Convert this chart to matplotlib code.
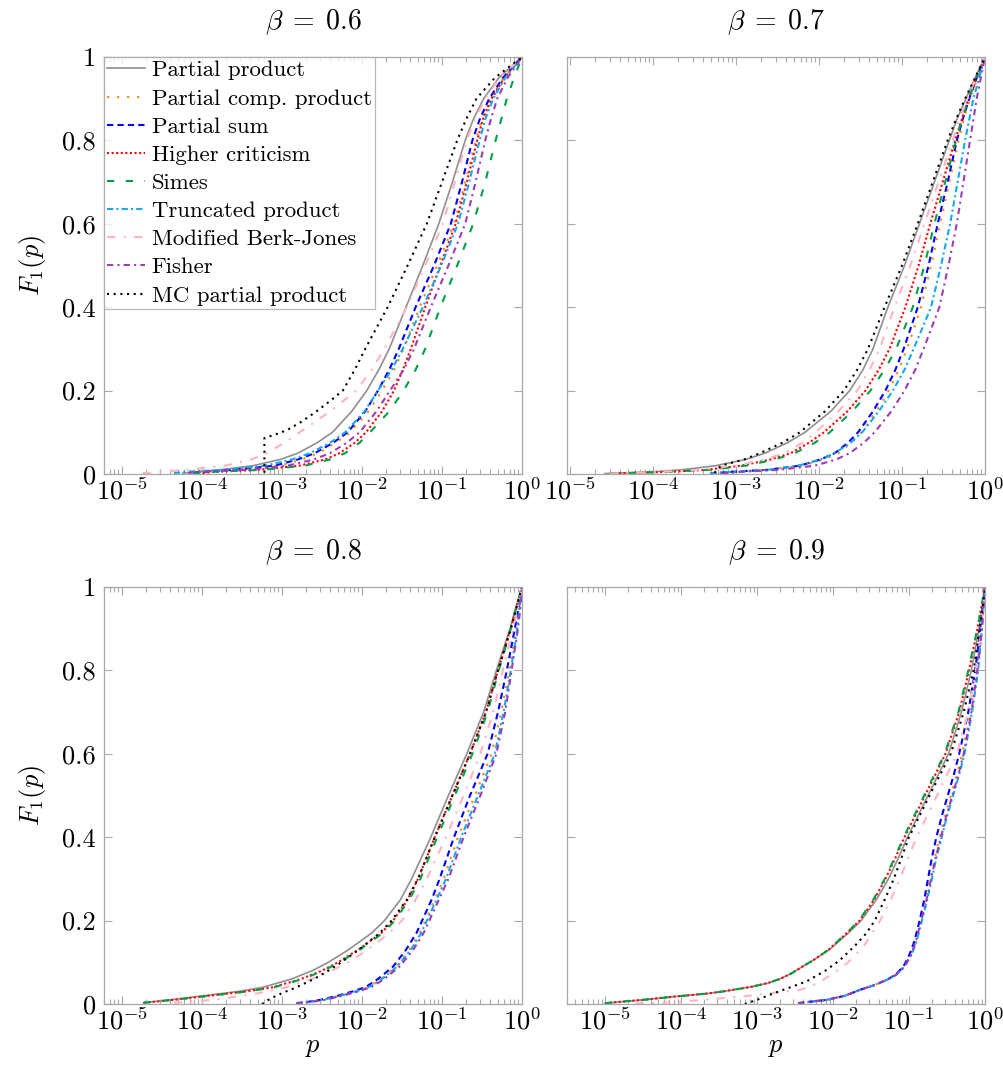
import numpy as np
import matplotlib
matplotlib.use("Agg")
import matplotlib.pyplot as plt
from matplotlib.ticker import FuncFormatter, LogLocator, NullFormatter

plt.rcParams["font.family"] = "serif"
plt.rcParams["font.serif"] = ["cmr10"]
plt.rcParams["mathtext.fontset"] = "cm"
plt.rcParams["axes.unicode_minus"] = False

# ---- curves: (log10 p, F1(p)) ----
# beta = 0.6
F06 = [0.002, 0.005, 0.01, 0.02, 0.035, 0.05, 0.075, 0.1, 0.15, 0.2, 0.25, 0.3, 0.4, 0.5, 0.6, 0.7, 0.8, 0.85, 0.9, 0.95, 1.0]
B06_PP = ([-4.24, -4.09, -3.78, -3.36, -3.02, -2.80, -2.56, -2.37, -2.13, -1.94, -1.79, -1.66, -1.45, -1.24, -1.04, -0.87, -0.71, -0.61, -0.48, -0.29, 0], F06)
B06_PCP = ([-4.09, -4.0, -3.55, -3.02, -2.75, -2.55, -2.33, -2.15, -1.92, -1.75, -1.60, -1.48, -1.28, -1.06, -0.85, -0.71, -0.58, -0.50, -0.39, -0.23, 0], F06)
B06_PS = ([-4.11, -4.02, -3.62, -3.09, -2.80, -2.59, -2.36, -2.18, -1.96, -1.80, -1.66, -1.54, -1.33, -1.10, -0.89, -0.75, -0.62, -0.53, -0.41, -0.24, 0], F06)
B06_HC = ([-3.99, -3.86, -3.30, -2.78, -2.46, -2.28, -2.09, -1.95, -1.75, -1.60, -1.49, -1.39, -1.21, -1.02, -0.83, -0.69, -0.56, -0.49, -0.38, -0.22, 0], F06)
B06_SIMES = ([-4.11, -3.90, -3.25, -2.71, -2.40, -2.21, -2.03, -1.90, -1.66, -1.48, -1.33, -1.21, -1.02, -0.81, -0.61, -0.46, -0.33, -0.26, -0.19, -0.10, 0], F06)
B06_TP = ([-4.35, -4.21, -3.72, -3.21, -2.87, -2.65, -2.40, -2.21, -1.97, -1.80, -1.63, -1.49, -1.24, -1.01, -0.80, -0.66, -0.53, -0.46, -0.36, -0.21, 0], F06)
B06_MBJ = ([-4.74, -4.52, -4.18, -3.71, -3.38, -3.19, -2.97, -2.78, -2.40, -2.07, -1.88, -1.72, -1.44, -1.21, -0.99, -0.84, -0.69, -0.59, -0.46, -0.28, 0], F06)
B06_FISHER = ([-4.17, -4.09, -3.45, -2.93, -2.60, -2.40, -2.19, -2.03, -1.82, -1.65, -1.48, -1.35, -1.14, -0.92, -0.71, -0.58, -0.46, -0.39, -0.31, -0.18, 0], F06)
B06_MC = ([-3.22, -3.22, -3.08, -2.94, -2.76, -2.57, -2.40, -2.24, -2.09, -1.96, -1.68, -1.43, -1.19, -1.0, -0.81, -0.70, -0.57, -0.34, 0],
          [0.003, 0.086, 0.095, 0.105, 0.125, 0.15, 0.175, 0.2, 0.25, 0.3, 0.4, 0.5, 0.6, 0.7, 0.8, 0.85, 0.9, 0.95, 1.0])

# beta = 0.7
F07 = [0.001, 0.005, 0.01, 0.02, 0.035, 0.05, 0.075, 0.1, 0.15, 0.2, 0.25, 0.3, 0.4, 0.5, 0.6, 0.7, 0.8, 0.85, 0.9, 0.95, 1.0]
B07_PP = ([-4.58, -4.04, -3.66, -3.24, -2.88, -2.65, -2.38, -2.17, -1.86, -1.63, -1.47, -1.35, -1.17, -0.97, -0.79, -0.61, -0.43, -0.34, -0.23, -0.12, 0], F07)
B07_PCP = ([-3.31, -3.05, -2.59, -2.20, -1.94, -1.77, -1.61, -1.49, -1.31, -1.16, -1.04, -0.94, -0.77, -0.65, -0.54, -0.43, -0.32, -0.26, -0.18, -0.09, 0], F07)
B07_PS = ([-3.31, -3.07, -2.62, -2.23, -1.98, -1.81, -1.65, -1.53, -1.35, -1.20, -1.08, -0.98, -0.81, -0.68, -0.57, -0.45, -0.34, -0.27, -0.19, -0.10, 0], F07)
B07_HC = ([-4.52, -3.80, -3.35, -2.94, -2.58, -2.34, -2.12, -1.94, -1.66, -1.44, -1.28, -1.15, -0.96, -0.80, -0.66, -0.51, -0.36, -0.28, -0.20, -0.10, 0], F07)
B07_SIMES = ([-4.52, -3.86, -3.32, -2.88, -2.53, -2.29, -2.05, -1.87, -1.60, -1.38, -1.21, -1.07, -0.87, -0.73, -0.61, -0.48, -0.35, -0.28, -0.20, -0.10, 0], F07)
B07_TP = ([-3.31, -3.07, -2.62, -2.25, -1.98, -1.81, -1.62, -1.48, -1.28, -1.11, -0.97, -0.86, -0.65, -0.53, -0.42, -0.33, -0.24, -0.19, -0.14, -0.07, 0], F07)
B07_MBJ = ([-4.52, -3.92, -3.45, -3.00, -2.65, -2.42, -2.20, -2.04, -1.77, -1.54, -1.39, -1.27, -1.09, -0.90, -0.73, -0.56, -0.39, -0.31, -0.21, -0.11, 0], F07)
B07_FISHER = ([-3.17, -2.95, -2.48, -2.05, -1.79, -1.63, -1.46, -1.33, -1.13, -0.97, -0.84, -0.74, -0.55, -0.44, -0.34, -0.26, -0.18, -0.14, -0.10, -0.05, 0], F07)
B07_MC = ([-3.26, -3.18, -2.90, -2.71, -2.44, -2.23, -1.93, -1.70, -1.54, -1.41, -1.21, -1.0, -0.81, -0.63, -0.45, -0.35, -0.24, -0.12, 0],
          [0.003, 0.02, 0.035, 0.05, 0.075, 0.1, 0.15, 0.2, 0.25, 0.3, 0.4, 0.5, 0.6, 0.7, 0.8, 0.85, 0.9, 0.95, 1.0])

# beta = 0.8
F08A = [0.003, 0.01, 0.02, 0.03, 0.04, 0.06, 0.08, 0.1, 0.13, 0.17, 0.2, 0.25, 0.3, 0.4, 0.5, 0.6, 0.7, 0.8, 0.9, 0.95, 1.0]
F08B = [0.002, 0.005, 0.01, 0.02, 0.03, 0.04, 0.06, 0.09, 0.13, 0.17, 0.25, 0.3, 0.4, 0.5, 0.6, 0.7, 0.8, 0.9, 0.95, 1.0]
B08_PP = ([-4.73, -4.40, -3.97, -3.55, -3.24, -2.88, -2.62, -2.42, -2.17, -1.88, -1.72, -1.52, -1.38, -1.14, -0.92, -0.69, -0.48, -0.32, -0.15, -0.08, 0], F08A)
B08_PCP = ([-2.82, -2.66, -2.49, -2.27, -2.08, -1.92, -1.76, -1.57, -1.41, -1.28, -1.09, -0.98, -0.80, -0.59, -0.38, -0.26, -0.16, -0.07, -0.03, 0], F08B)
B08_PS = ([-2.82, -2.68, -2.52, -2.30, -2.12, -1.96, -1.80, -1.61, -1.45, -1.32, -1.13, -1.03, -0.85, -0.65, -0.43, -0.30, -0.19, -0.09, -0.04, 0], F08B)
B08_HC = ([-4.73, -4.35, -3.90, -3.45, -3.12, -2.76, -2.50, -2.30, -2.05, -1.76, -1.61, -1.43, -1.30, -1.09, -0.87, -0.65, -0.45, -0.30, -0.14, -0.07, 0], F08A)
B08_SIMES = ([-4.73, -4.35, -3.90, -3.44, -3.10, -2.74, -2.48, -2.28, -2.03, -1.74, -1.59, -1.41, -1.27, -1.06, -0.84, -0.62, -0.43, -0.29, -0.14, -0.07, 0], F08A)
B08_TP = ([-2.82, -2.66, -2.49, -2.27, -2.08, -1.92, -1.75, -1.56, -1.39, -1.26, -1.07, -0.95, -0.76, -0.55, -0.34, -0.23, -0.14, -0.06, -0.03, 0], F08B)
B08_MBJ = ([-4.35, -3.85, -3.50, -3.17, -2.95, -2.63, -2.38, -2.17, -1.93, -1.66, -1.50, -1.33, -1.19, -0.95, -0.73, -0.52, -0.36, -0.24, -0.11, -0.05, 0], F08A)
B08_FISHER = ([-2.82, -2.64, -2.46, -2.24, -2.05, -1.89, -1.72, -1.53, -1.36, -1.23, -1.04, -0.92, -0.73, -0.52, -0.32, -0.21, -0.13, -0.05, -0.02, 0], F08B)
B08_MC = ([-3.25, -3.17, -3.07, -2.95, -2.82, -2.60, -2.42, -2.26, -2.04, -1.78, -1.63, -1.44, -1.30, -1.09, -0.87, -0.65, -0.45, -0.30, -0.14, -0.07, 0],
          [0.0, 0.01, 0.02, 0.03, 0.04, 0.06, 0.08, 0.1, 0.13, 0.17, 0.2, 0.25, 0.3, 0.4, 0.5, 0.6, 0.7, 0.8, 0.9, 0.95, 1.0])

# beta = 0.9
F09A = [0.002, 0.01, 0.0175, 0.025, 0.03, 0.041, 0.05, 0.06, 0.073, 0.09, 0.105, 0.13, 0.17, 0.2, 0.25, 0.3, 0.35, 0.4, 0.5, 0.6, 0.7, 0.8, 0.9, 0.95, 1.0]
F09B = [0.002, 0.01, 0.02, 0.034, 0.045, 0.058, 0.07, 0.089, 0.12, 0.15, 0.2, 0.25, 0.3, 0.35, 0.4, 0.45, 0.5, 0.55, 0.6, 0.7, 0.8, 0.9, 0.95, 1.0]
B09_PP = ([-5.0, -4.5, -4.10, -3.66, -3.45, -3.08, -2.86, -2.70, -2.55, -2.40, -2.26, -2.05, -1.80, -1.63, -1.43, -1.27, -1.14, -1.02, -0.75, -0.48, -0.31, -0.18, -0.08, -0.04, 0], F09A)
B09_PCP = ([-2.46, -2.08, -1.84, -1.645, -1.46, -1.29, -1.17, -1.07, -0.97, -0.91, -0.84, -0.78, -0.72, -0.66, -0.60, -0.53, -0.45, -0.37, -0.30, -0.19, -0.11, -0.05, -0.02, 0], F09B)
B09_PS = ([-2.46, -2.08, -1.84, -1.645, -1.46, -1.29, -1.18, -1.075, -0.99, -0.93, -0.86, -0.80, -0.75, -0.70, -0.64, -0.57, -0.49, -0.41, -0.34, -0.22, -0.13, -0.06, -0.03, 0], F09B)
B09_HC = ([-5.0, -4.5, -4.10, -3.66, -3.45, -3.08, -2.86, -2.70, -2.55, -2.40, -2.26, -2.06, -1.82, -1.65, -1.46, -1.31, -1.18, -1.06, -0.79, -0.52, -0.34, -0.21, -0.10, -0.05, 0], F09A)
B09_SIMES = ([-5.0, -4.5, -4.10, -3.66, -3.45, -3.08, -2.86, -2.70, -2.55, -2.40, -2.26, -2.06, -1.82, -1.66, -1.47, -1.32, -1.19, -1.07, -0.80, -0.53, -0.35, -0.22, -0.10, -0.05, 0], F09A)
B09_TP = ([-2.46, -2.08, -1.84, -1.645, -1.46, -1.29, -1.17, -1.06, -0.96, -0.90, -0.83, -0.76, -0.70, -0.64, -0.57, -0.50, -0.42, -0.34, -0.27, -0.17, -0.09, -0.04, -0.02, 0], F09B)
B09_MBJ = ([-4.6, -4.1, -3.22, -2.43, -2.2, -2.0, -1.80, -1.60, -1.38, -1.24, -1.12, -1.01, -0.90, -0.63, -0.37, -0.22, -0.12, -0.05, -0.02, 0],
           [0.001, 0.004, 0.0175, 0.034, 0.05, 0.073, 0.1, 0.137, 0.2, 0.25, 0.3, 0.35, 0.4, 0.5, 0.6, 0.7, 0.8, 0.9, 0.95, 1.0])
B09_FISHER = ([-2.46, -2.08, -1.84, -1.645, -1.46, -1.29, -1.17, -1.06, -0.97, -0.91, -0.84, -0.77, -0.71, -0.65, -0.58, -0.51, -0.43, -0.35, -0.28, -0.18, -0.10, -0.04, -0.02, 0], F09B)
B09_MC = ([-3.16, -3.0, -2.79, -2.35, -2.10, -1.91, -1.71, -1.56, -1.45, -1.32, -1.20, -1.10, -1.0, -0.73, -0.45, -0.28, -0.15, -0.07, -0.03, 0],
          [0.0, 0.01, 0.025, 0.054, 0.08, 0.105, 0.14, 0.17, 0.2, 0.25, 0.3, 0.35, 0.4, 0.5, 0.6, 0.7, 0.8, 0.9, 0.95, 1.0])

BETAS = ["0.6", "0.7", "0.8", "0.9"]
LABELS = ["Partial product", "Partial comp. product", "Partial sum", "Higher criticism",
          "Simes", "Truncated product", "Modified Berk-Jones", "Fisher", "MC partial product"]
PANELS = [
    [B06_PP, B06_PCP, B06_PS, B06_HC, B06_SIMES, B06_TP, B06_MBJ, B06_FISHER, B06_MC],
    [B07_PP, B07_PCP, B07_PS, B07_HC, B07_SIMES, B07_TP, B07_MBJ, B07_FISHER, B07_MC],
    [B08_PP, B08_PCP, B08_PS, B08_HC, B08_SIMES, B08_TP, B08_MBJ, B08_FISHER, B08_MC],
    [B09_PP, B09_PCP, B09_PS, B09_HC, B09_SIMES, B09_TP, B09_MBJ, B09_FISHER, B09_MC],
]
XMIN_LOG = [-5.225, -5.036, -5.225, -5.5]

# line styles, one per method
STYLES = [
    dict(color="#8f8f8f", ls="-", lw=1.2),
    dict(color="#ff8c1a", ls=(0, (1, 3.5)), lw=1.6),
    dict(color="#0000ff", ls=(0, (3, 2)), lw=1.5),
    dict(color="#ff0000", ls=(0, (1, 1.2)), lw=1.5),
    dict(color="#00a046", ls=(0, (3.5, 5.5)), lw=1.5),
    dict(color="#16a8ef", ls=(0, (3, 1.5, 1, 1.5)), lw=1.5),
    dict(color="#ffb5c0", ls=(0, (4, 4, 1, 4)), lw=1.5),
    dict(color="#9b3db5", ls=(0, (3, 2, 1, 2)), lw=1.5),
    dict(color="#000000", ls=(0, (1, 2.2)), lw=1.5),
]

FRAME = "#a8a8a8"
W, H = 1004, 1068
fig = plt.figure(figsize=(W / 100, H / 100), dpi=100)
rects = [(104, 57), (567, 57), (104, 587), (567, 587)]
aw, ah = 418, 417

axes = []
for k, (x0, y0) in enumerate(rects):
    ax = fig.add_axes([x0 / W, 1 - (y0 + ah) / H, aw / W, ah / H])
    axes.append(ax)
    for (lp, F), st, lab in zip(PANELS[k], STYLES, LABELS):
        ax.plot(10 ** np.array(lp), F, label=lab, color=st["color"], linestyle=st["ls"], linewidth=st["lw"])
    ax.set_xscale("log")
    ax.set_xlim(10 ** XMIN_LOG[k], 1)
    ax.set_ylim(0, 1)
    ax.xaxis.set_major_locator(LogLocator(base=10, numticks=10))
    ax.xaxis.set_minor_locator(LogLocator(base=10, subs=np.arange(2, 10), numticks=20))
    ax.xaxis.set_minor_formatter(NullFormatter())
    ax.xaxis.set_major_formatter(FuncFormatter(lambda v, pos: r"$10^{%d}$" % round(np.log10(v))))
    ax.set_yticks([0, 0.2, 0.4, 0.6, 0.8, 1.0])
    if k % 2 == 0:
        ax.set_yticklabels(["0", "0.2", "0.4", "0.6", "0.8", "1"])
        ax.set_ylabel(r"$F_1(p)$", fontsize=19, labelpad=10)
    else:
        ax.set_yticklabels([])
    ax.tick_params(which="both", direction="in", top=True, right=True, colors=FRAME,
                   labelcolor="black", labelsize=19, width=0.8)
    ax.tick_params(which="major", length=6)
    ax.tick_params(axis="y", pad=6)
    ax.tick_params(axis="x", pad=3)
    ax.tick_params(which="minor", length=3.5)
    if k >= 2:
        ax.set_xlabel(r"$p$", fontsize=19, labelpad=0)
    for s in ax.spines.values():
        s.set_color(FRAME)
        s.set_linewidth(0.9)
    ax.set_title(r"$\beta \;=\; %s$" % BETAS[k], fontsize=20, pad=20)

leg = axes[0].legend(loc="upper left", fontsize=16.4, frameon=True, fancybox=False,
                     borderaxespad=0, handlelength=1.65, handletextpad=0.3,
                     labelspacing=0.36, borderpad=0.15)
leg.get_frame().set_edgecolor(FRAME)
leg.get_frame().set_linewidth(0.9)

fig.savefig("out.png", dpi=100)
